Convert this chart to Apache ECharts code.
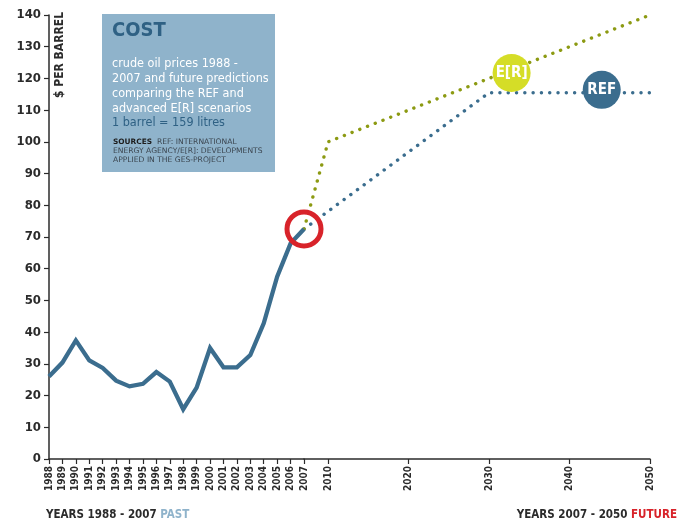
<!DOCTYPE html>
<html>
<head>
<meta charset="utf-8">
<script src="https://cdn.jsdelivr.net/npm/echarts@6/dist/echarts.min.js"></script>
<style>
html,body{margin:0;padding:0;background:#fff;}
#chart{width:696px;height:520px;}
</style>
</head>
<body>
<div id="chart"></div>
<script>
// ---- data ----
var pastYears = [1988,1989,1990,1991,1992,1993,1994,1995,1996,1997,1998,1999,2000,2001,2002,2003,2004,2005,2006,2007];
var pastPrices = [26,30.4,37.4,31.1,28.7,24.7,22.9,23.7,27.4,24.4,15.7,22.5,35,28.9,28.9,32.8,42.8,57.5,68,72.5];
var refYears = [2007,2030,2050];
var refPrices = [72.5,115.5,115.5];
var erYears = [2007,2010,2050];
var erPrices = [72.5,100,140];
var futureTicks = [2010,2020,2030,2040,2050];
var yTicks = [0,10,20,30,40,50,60,70,80,90,100,110,120,130,140];
var erBadge = [2032.8,121.7];
var refBadge = [2044,116.4];
var nowMark = [2007,72.5];

var FONT = "'DejaVu Sans Condensed','Liberation Sans Narrow','Roboto Condensed',Roboto,sans-serif";
var SFONT = "'DejaVu Sans',sans-serif";
var BLUE = '#3b6d8e', GREEN = '#8c9a12', LIME = '#d5dd27', RED = '#d8232a', DARK = '#2b2b2b';

function zip(a,b){return a.map(function(v,i){return [v,b[i]];});}

var chart = echarts.init(document.getElementById('chart'), null, {renderer:'canvas'});
var axisLabelStyle = {color:DARK, fontFamily:FONT, fontWeight:'bold'};
var option = {
  animation:false,
  grid:[
    {left:49, right:392, top:15, bottom:61},
    {left:304, right:46, top:15, bottom:61}
  ],
  xAxis:[
    {gridIndex:0, type:'value', min:1988, max:2007, interval:1,
     axisLine:{lineStyle:{color:DARK,width:1.5}},
     axisTick:{length:5, lineStyle:{color:DARK,width:1.2}},
     axisLabel:Object.assign({rotate:90, fontSize:10, margin:7, formatter:function(v){return String(v);}}, axisLabelStyle),
     splitLine:{show:false}},
    {gridIndex:1, type:'value', min:2007, max:2050,
     axisLine:{lineStyle:{color:DARK,width:1.5}},
     axisTick:{length:5, customValues:futureTicks, lineStyle:{color:DARK,width:1.2}},
     axisLabel:Object.assign({rotate:90, fontSize:10, margin:7, customValues:futureTicks, formatter:function(v){return String(v);}}, axisLabelStyle),
     splitLine:{show:false}}
  ],
  yAxis:[
    {gridIndex:0, type:'value', min:0, max:140, interval:10,
     axisLine:{show:true, lineStyle:{color:DARK,width:1.5}},
     axisTick:{show:true, length:5, lineStyle:{color:DARK,width:1.2}},
     axisLabel:Object.assign({fontSize:13, margin:8, customValues:yTicks}, axisLabelStyle),
     splitLine:{show:false}},
    {gridIndex:1, type:'value', min:0, max:140, interval:10, show:false, splitLine:{show:false}}
  ],
  series:[
    {type:'line', name:'REF', xAxisIndex:1, yAxisIndex:1, data:zip(refYears,refPrices), symbol:'none', z:2,
     lineStyle:{color:BLUE, width:3.4, type:[0.1,8.2], cap:'round'}},
    {type:'line', name:'E[R]', xAxisIndex:1, yAxisIndex:1, data:zip(erYears,erPrices), symbol:'none', z:2,
     lineStyle:{color:GREEN, width:3.4, type:[0.1,8.2], cap:'round'}},
    {type:'line', name:'past', xAxisIndex:0, yAxisIndex:0, data:zip(pastYears,pastPrices), symbol:'none', z:3,
     lineStyle:{color:BLUE, width:4.3, join:'miter'}},
    {type:'scatter', xAxisIndex:1, yAxisIndex:1, clip:false, z:5, symbolSize:38,
     data:[{value:erBadge, itemStyle:{color:LIME, opacity:1}, label:{formatter:'E[R]'}},
           {value:refBadge, itemStyle:{color:BLUE, opacity:1}, label:{formatter:'REF'}}],
     itemStyle:{opacity:1},
     label:{show:true, position:'inside', color:'#fff', fontFamily:FONT, fontWeight:'bold', fontSize:15}},
    {type:'scatter', xAxisIndex:0, yAxisIndex:0, clip:false, z:6, symbolSize:34,
     data:[nowMark], itemStyle:{color:'rgba(0,0,0,0)', borderColor:RED, borderWidth:5, opacity:1}}
  ],
  graphic:[
    {type:'rect', left:102, top:14, shape:{width:173, height:158}, style:{fill:'#8fb3cb'}, z:1},
    {type:'text', x:112, y:21, style:{text:'COST', fill:'#2f6184', font:'bold 20px '+FONT}, z:2},
    {type:'text', x:112, y:56, style:{text:'crude oil prices 1988 -\n2007 and future predictions\ncomparing the REF and\nadvanced E[R] scenarios', fill:'#fff', font:'12.5px '+FONT, lineHeight:15}, z:2},
    {type:'text', x:112, y:116, style:{text:'1 barrel = 159 litres', fill:'#2f6184', font:'12.5px '+FONT}, z:2},
    {type:'text', x:113, y:137, style:{text:'{b|SOURCES}{r|  REF: INTERNATIONAL}\n{r|ENERGY AGENCY/E[R]: DEVELOPMENTS}\n{r|APPLIED IN THE GES-PROJECT}',
      rich:{b:{fontWeight:'bold', fontSize:7.4, fill:'#1e1e1e', fontFamily:SFONT, lineHeight:9.4},
            r:{fontSize:7.6, fill:'#3c4650', fontFamily:SFONT, lineHeight:9.4}}}, z:2},
    {type:'text', x:60, y:98, rotation:Math.PI/2, style:{text:'$ PER BARREL', fill:DARK, font:'bold 12px '+FONT, textAlign:'left', textVerticalAlign:'middle'}, z:2},
    {type:'text', x:46, y:509, style:{text:'{a|YEARS 1988 - 2007 }{p|PAST}', rich:{a:{fill:DARK, fontFamily:FONT, fontWeight:'bold', fontSize:11.5}, p:{fill:'#8fb3cb', fontFamily:FONT, fontWeight:'bold', fontSize:11.5}}}, z:2},
    {type:'text', x:677, y:509, style:{text:'{a|YEARS 2007 - 2050 }{f|FUTURE}', textAlign:'right', rich:{a:{fill:DARK, fontFamily:FONT, fontWeight:'bold', fontSize:11.5}, f:{fill:RED, fontFamily:FONT, fontWeight:'bold', fontSize:11.5}}}, z:2}
  ]
};
chart.setOption(option);
</script>
</body>
</html>
